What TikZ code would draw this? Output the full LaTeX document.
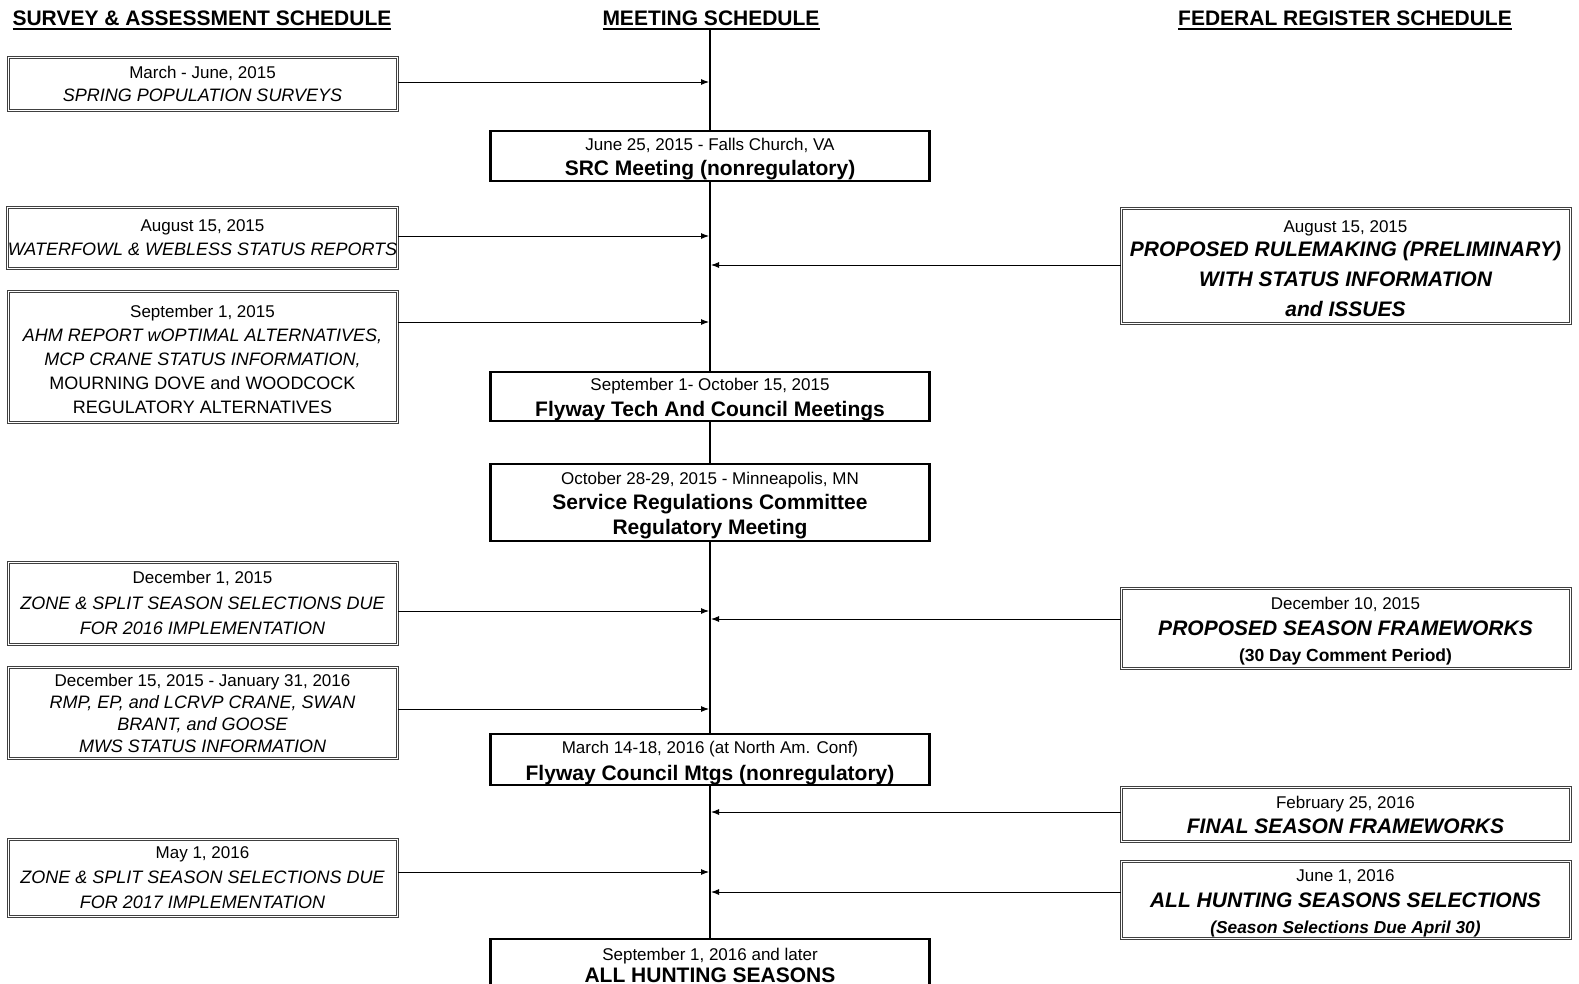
\documentclass[tikz,border=0pt]{standalone}
\usepackage{fontspec}
\setmainfont{Liberation Sans}
\usetikzlibrary{arrows.meta}
\newcommand\hdrul[1]{\setbox0\hbox{#1}\rlap{\copy0}\rule[-4.5pt]{\wd0}{1.8pt}}
\newcommand\dte{\fontsize{17}{24}\selectfont}
\newcommand\itl{\fontsize{18}{24}\selectfont\itshape}
\newcommand\bld{\fontsize{21}{24}\selectfont\bfseries}
\newcommand\bitl{\fontsize{21}{24}\selectfont\bfseries\itshape}
\newcommand\smb{\fontsize{17.5}{24}\selectfont\bfseries}
\newcommand\smbi{\fontsize{17.3}{24}\selectfont\bfseries\itshape}
\newcommand\tp[1]{\rule{0pt}{#1pt}}
\tikzset{
  sidebox/.style={draw=black!75, double=white, double distance=1pt, line width=1pt,
    fill=white, align=center, inner sep=0pt},
  lbox/.style={sidebox, minimum width=389pt},
  rbox/.style={sidebox, minimum width=449pt},
  cbox/.style={draw=black, line width=2.2pt, fill=white, minimum width=439pt,
    align=center, inner sep=0pt},
  arr/.style={line width=0.9pt, -{Latex[length=8pt,width=6pt]}, shorten >=1pt},
  hdr/.style={inner sep=0pt, font=\fontsize{21}{24}\selectfont\bfseries, anchor=base},
  spine/.style={line width=2pt}
}
\begin{document}
\begin{tikzpicture}[x=1pt,y=-1pt]
\useasboundingbox (0,0) rectangle (1579,983);
% headers
\node[hdr] (hS) at (202,25) {\hdrul{SURVEY \& ASSESSMENT SCHEDULE}};
\node[hdr] (hM) at (711,25) {\hdrul{MEETING SCHEDULE}};
\node[hdr] (hF) at (1345,25) {\hdrul{FEDERAL REGISTER SCHEDULE}};

% spine coordinates
\coordinate (s1) at (710,82);
\coordinate (s2) at (710,236);
\coordinate (s3) at (710,322);
\coordinate (s4) at (710,611);
\coordinate (s5) at (710,709);
\coordinate (s6) at (710,872);
\coordinate (r1) at (710,265);
\coordinate (r2) at (710,619);
\coordinate (r3) at (710,812);
\coordinate (r4) at (710,892);

% center boxes
\node[cbox, minimum height=50pt, font=\fontsize{17}{25}\selectfont] (C1) at (710,156)
  {\dte\tp{19.2}June 25, 2015 - Falls Church, VA\\ \bld SRC Meeting (nonregulatory)};
\node[cbox, minimum height=49pt, font=\fontsize{17}{26}\selectfont] (C2) at (710,396.5)
  {\dte\tp{18.2}September 1- October 15, 2015\\ \bld Flyway Tech And Council Meetings};
\node[cbox, minimum height=77pt, font=\fontsize{17}{25}\selectfont] (C3) at (710,502.5)
  {\dte\tp{19}October 28-29, 2015 - Minneapolis, MN\\ \bld Service Regulations Committee\\ \bld Regulatory Meeting};
\node[cbox, minimum height=51pt, font=\fontsize{17}{27}\selectfont] (C4) at (710,759.5)
  {\dte\tp{19}March 14-18, 2016 (at North Am. Conf)\\ \bld Flyway Council Mtgs (nonregulatory)};
\node[cbox, minimum height=52pt, anchor=north, font=\fontsize{17}{22}\selectfont] (C5) at (710,938)
  {\dte September 1, 2016 and later\\ \bld ALL HUNTING SEASONS};

% spine
\draw[spine] (hM.south -| C1.north) -- (C1.north);
\draw[spine] (C1.south) -- (C2.north);
\draw[spine] (C2.south) -- (C3.north);
\draw[spine] (C3.south) -- (C4.north);
\draw[spine] (C4.south) -- (C5.north);

% left boxes
\node[lbox, minimum height=53pt, font=\fontsize{17}{23}\selectfont] (L1) at (202.5,83.5)
  {\dte March - June, 2015\\ \itl SPRING POPULATION SURVEYS};
\node[lbox, minimum height=61pt, font=\fontsize{17}{24}\selectfont] (L2) at (202.5,237.5)
  {\dte August 15, 2015\\ \itl WATERFOWL \& WEBLESS STATUS REPORTS};
\node[lbox, minimum height=131pt, font=\fontsize{17}{24}\selectfont] (L3) at (202.5,356.5)
  {\dte\tp{18.2}September 1, 2015\\ \itl AHM REPORT wOPTIMAL ALTERNATIVES,\\ \itl MCP CRANE STATUS INFORMATION,\\
   \itl\upshape MOURNING DOVE and WOODCOCK\\ \itl\upshape REGULATORY ALTERNATIVES};
\node[lbox, minimum height=82pt, font=\fontsize{17}{25.5}\selectfont] (L4) at (202.5,603)
  {\dte December 1, 2015\\ \itl ZONE \& SPLIT SEASON SELECTIONS DUE\\ \itl FOR 2016 IMPLEMENTATION};
\node[lbox, minimum height=91pt, font=\fontsize{17}{22}\selectfont] (L5) at (202.5,712.5)
  {\dte\tp{15}December 15, 2015 - January 31, 2016\\ \itl RMP, EP, and LCRVP CRANE, SWAN\\ \itl BRANT, and GOOSE\\ \itl MWS STATUS INFORMATION};
\node[lbox, minimum height=77pt, font=\fontsize{17}{25}\selectfont] (L6) at (202.5,877.5)
  {\dte May 1, 2016\\ \itl ZONE \& SPLIT SEASON SELECTIONS DUE\\ \itl FOR 2017 IMPLEMENTATION};

% right boxes
\node[rbox, minimum height=115pt, font=\fontsize{17}{24}\selectfont] (R1) at (1345.5,265.5)
  {\dte\tp{18.2}August 15, 2015\\ \bitl PROPOSED RULEMAKING (PRELIMINARY)\\[6pt] \bitl WITH STATUS INFORMATION\\[6pt] \bitl and ISSUES};
\node[rbox, minimum height=80pt, font=\fontsize{17}{26}\selectfont] (R2) at (1345.5,628)
  {\dte\tp{18.2}December 10, 2015\\ \bitl PROPOSED SEASON FRAMEWORKS\\ \smb (30 Day Comment Period)};
\node[rbox, minimum height=54pt, font=\fontsize{17}{25}\selectfont] (R3) at (1345.5,814)
  {\dte\tp{14}February 25, 2016\\ \bitl FINAL SEASON FRAMEWORKS};
\node[rbox, minimum height=77pt, font=\fontsize{17}{26}\selectfont] (R4) at (1345.5,899.5)
  {\dte\tp{20}June 1, 2016\\ \bitl ALL HUNTING SEASONS SELECTIONS\\ \smbi (Season Selections Due April 30)};

% arrows
\draw[arr] (L1.east |- s1) -- (s1);
\draw[arr] (L2.east |- s2) -- (s2);
\draw[arr] (L3.east |- s3) -- (s3);
\draw[arr] (L4.east |- s4) -- (s4);
\draw[arr] (L5.east |- s5) -- (s5);
\draw[arr] (L6.east |- s6) -- (s6);
\draw[arr] (R1.west |- r1) -- (r1);
\draw[arr] (R2.west |- r2) -- (r2);
\draw[arr] (R3.west |- r3) -- (r3);
\draw[arr] (R4.west |- r4) -- (r4);
\end{tikzpicture}
\end{document}
